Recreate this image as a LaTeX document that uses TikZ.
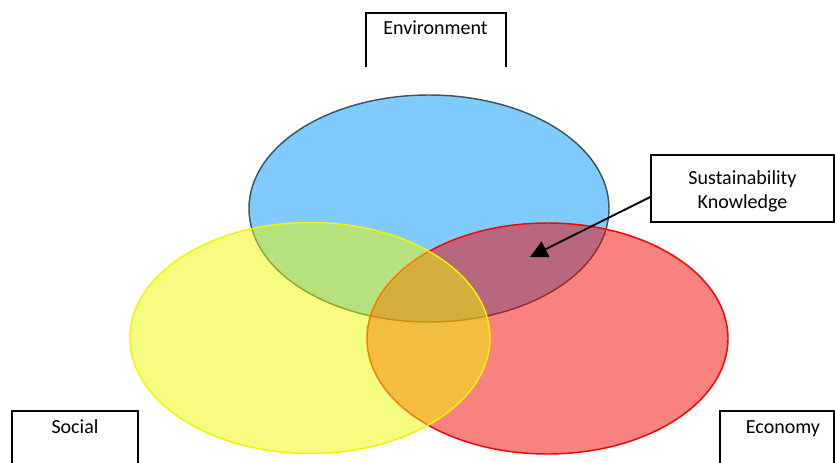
\documentclass[tikz,border=0pt]{standalone}
\usepackage{fontspec}
\setmainfont{Carlito}
\usetikzlibrary{arrows.meta,calc}
\definecolor{bluefill}{RGB}{128,203,253}
\definecolor{blueline}{RGB}{65,85,95}
\definecolor{yelfill}{RGB}{237,249,0}
\definecolor{yelline}{RGB}{240,245,0}
\definecolor{redfill}{RGB}{243,5,0}
\definecolor{redline}{RGB}{255,0,0}
\begin{document}
\begin{tikzpicture}[x=0.75pt,y=-0.75pt,
  lbl/.style={font=\fontsize{15}{18}\selectfont, inner sep=0pt},
  boxline/.style={draw=black, line width=1.2pt},
  ell/.style={line width=1.1pt}]
\useasboundingbox (0,0) rectangle (835,463);
\clip (0,0) rectangle (835,463);
% circles
\fill[bluefill] (429,208.5) ellipse [x radius=180, y radius=113.5];
\draw[ell, blueline] (429,208.5) ellipse [x radius=180, y radius=113.5];
\fill[redfill, fill opacity=0.5] (547.5,338.5) ellipse [x radius=180.5, y radius=115.5];
\draw[ell, redline] (547.5,338.5) ellipse [x radius=180.5, y radius=115.5];
\fill[yelfill, fill opacity=0.5] (310,338) ellipse [x radius=180, y radius=115.5];
\draw[ell, yelline] (310,338) ellipse [x radius=180, y radius=115.5];
% labels
\node[lbl, anchor=base] (env) at (435.5,35) {Environment};
\node[lbl, anchor=base] (soc) at (75,433) {Social};
\node[lbl, anchor=base] (eco) at (783,433) {Economy};
\node[boxline, fill=white, minimum width=137.25pt, minimum height=50.25pt] (sk) at (742.5,188.5) {};
\node[lbl, align=center] (sktext) at (742.5,191) {Sustainability\\Knowledge};
% open boxes
\coordinate (e1) at (365.7,67); \coordinate (e2) at (365.7,13);
\coordinate (e3) at (506,13);   \coordinate (e4) at (506,67);
\draw[boxline] (e1) -- (e2) -- (e3) -- (e4);
\coordinate (s1) at (12,470); \coordinate (s2) at (12,411);
\coordinate (s3) at (138,411); \coordinate (s4) at (138,470);
\draw[boxline] (s1) -- (s2) -- (s3) -- (s4);
\coordinate (c1) at (720,470); \coordinate (c2) at (720,411);
\coordinate (c3) at (834,411); \coordinate (c4) at (834,470);
\draw[boxline] (c1) -- (c2) -- (c3) -- (c4);
% arrow
\coordinate (tip) at (530,257);
\draw[line width=1.4pt, -{Triangle[length=13pt,width=13pt]}] ($(sk.west)+(0,8.5)$) -- (tip);
\end{tikzpicture}
\end{document}
